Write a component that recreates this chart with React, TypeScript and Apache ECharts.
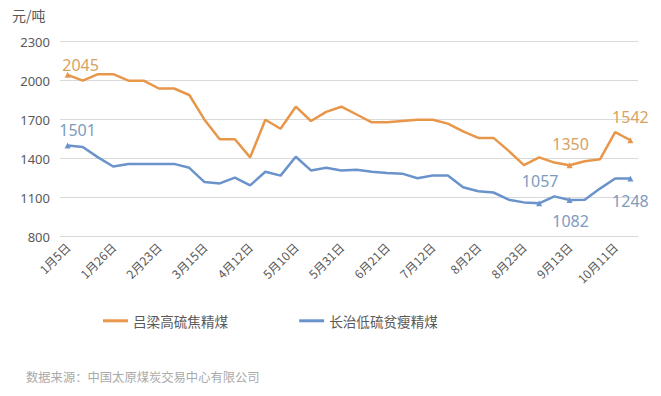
import React, { useEffect, useRef } from "react";
import * as echarts from "echarts";

const categories = [
  "1月5日", "1月12日", "1月19日", "1月26日", "2月2日", "2月9日", "2月23日", "3月2日",
  "3月9日", "3月15日", "3月22日", "3月29日", "4月12日", "4月19日", "4月26日", "5月10日",
  "5月17日", "5月24日", "5月31日", "6月7日", "6月14日", "6月21日", "6月28日", "7月5日",
  "7月12日", "7月19日", "7月26日", "8月2日", "8月9日", "8月16日", "8月23日", "8月30日",
  "9月6日", "9月13日", "9月20日", "9月27日", "10月11日", "10月18日",
];

const lvliang = [
  2045, 2000, 2050, 2050, 2000, 2000, 1940, 1940, 1890, 1700, 1550, 1550, 1410, 1700,
  1630, 1800, 1690, 1760, 1800, 1740, 1680, 1680, 1690, 1700, 1700, 1670, 1610, 1560,
  1560, 1460, 1350, 1410, 1370, 1350, 1380, 1395, 1605, 1542,
];

const changzhi = [
  1501, 1490, 1410, 1340, 1360, 1360, 1360, 1360, 1330, 1220, 1210, 1255, 1195, 1300,
  1270, 1415, 1310, 1330, 1310, 1315, 1300, 1290, 1285, 1250, 1270, 1270, 1180, 1150,
  1140, 1085, 1064, 1057, 1110, 1082, 1085, 1170, 1248, 1248,
];

const seriesNames = ["吕梁高硫焦精煤", "长治低硫贫瘦精煤"];
const yTicks = { min: 800, max: 2300, interval: 300 };

// labeled points: index -> label placement
const lvliangLabels: Record<number, { position: string; offset: number[] }> = {
  0: { position: "top", offset: [13, 6] },
  33: { position: "top", offset: [1, -5] },
  37: { position: "top", offset: [0, -7] },
};
const changzhiLabels: Record<number, { position: string; offset: number[] }> = {
  0: { position: "top", offset: [10, 0] },
  31: { position: "top", offset: [1, -6] },
  33: { position: "bottom", offset: [1, 5] },
  37: { position: "bottom", offset: [0, 7] },
};

function buildData(values: number[], labels: Record<number, any>, labelColor: string) {
  return values.map((v, i) => {
    const l = labels[i];
    if (!l) return { value: v };
    return {
      value: v,
      symbolSize: 6,
      label: {
        show: true,
        position: l.position,
        offset: l.offset,
        color: labelColor,
        fontSize: 16,
        fontFamily: "Noto Sans, sans-serif",
        formatter: String(v),
      },
    };
  });
}

export default function App() {
  const ref = useRef<HTMLDivElement>(null);
  useEffect(() => {
    if (!ref.current) return;
    const chart = echarts.init(ref.current, undefined, { renderer: "svg" });
    const orange = "#E8964A";
    const blue = "#6B93CB";
    chart.setOption({
      animation: false,
      backgroundColor: "#ffffff",
      textStyle: { fontFamily: "Noto Sans CJK SC, Noto Sans, sans-serif" },
      grid: { left: 60, right: 23, top: 41.7, bottom: 159.3, containLabel: false },
      legend: {
        data: seriesNames,
        left: 98,
        top: 309,
        itemWidth: 25,
        itemHeight: 3,
        itemGap: 71,
        icon: "rect",
        textStyle: { fontSize: 13.6, color: "#595959", fontFamily: "Noto Sans CJK SC" },
      },
      xAxis: {
        type: "category",
        data: categories,
        boundaryGap: true,
        axisLine: { lineStyle: { color: "#d9d9d9" } },
        axisTick: { interval: 2, length: 5, lineStyle: { color: "#d9d9d9" } },
        axisLabel: {
          interval: 2,
          rotate: 45,
          fontSize: 12,
          color: "#595959",
          margin: 8,
          fontFamily: "Noto Sans CJK SC",
        },
        splitLine: { show: false },
      },
      yAxis: {
        type: "value",
        min: yTicks.min,
        max: yTicks.max,
        interval: yTicks.interval,
        axisLine: { show: false },
        axisTick: { show: false },
        axisLabel: {
          fontSize: 13,
          color: "#595959",
          margin: 10,
          fontFamily: "Noto Sans",
          formatter: (v: number) => String(v),
        },
        splitLine: { lineStyle: { color: "#d9d9d9", width: 1 } },
      },
      series: [
        {
          name: seriesNames[0],
          type: "line",
          data: buildData(lvliang, lvliangLabels, "#D6A262"),
          symbol: "triangle",
          symbolSize: 0,
          showSymbol: true,
          showAllSymbol: true,
          itemStyle: { color: orange },
          lineStyle: { color: orange, width: 2.5 },
          z: 3,
        },
        {
          name: seriesNames[1],
          type: "line",
          data: buildData(changzhi, changzhiLabels, "#7E9BBE"),
          symbol: "triangle",
          symbolSize: 0,
          showSymbol: true,
          showAllSymbol: true,
          itemStyle: { color: blue },
          lineStyle: { color: blue, width: 2.5 },
          z: 2,
        },
      ],
      graphic: [
        {
          type: "text",
          left: 12,
          top: 8,
          style: { text: "元/吨", fontSize: 14, fill: "#595959", fontFamily: "Noto Sans CJK SC" },
        },
        {
          type: "text",
          left: 26,
          top: 371,
          style: {
            text: "数据来源：中国太原煤炭交易中心有限公司",
            fontSize: 12.3,
            fill: "#aaaaaa",
            fontFamily: "Noto Sans CJK SC",
          },
        },
      ],
    });
    return () => chart.dispose();
  }, []);
  return <div ref={ref} style={{ width: 661, height: 396, position: "absolute", left: 0, top: 0 }} />;
}
